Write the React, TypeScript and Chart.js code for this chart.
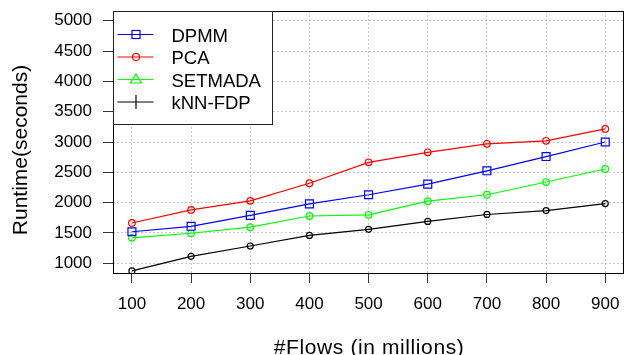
import React, { useEffect, useRef } from "react";
import { Chart, registerables } from "chart.js";

Chart.register(...registerables);

// Number of flows (millions) on the x axis
const flows = [100, 200, 300, 400, 500, 600, 700, 800, 900];

// Runtime in seconds for each method
const dpmm = [1520, 1610, 1790, 1980, 2130, 2305, 2525, 2760, 3000];
const pca = [1665, 1880, 2030, 2320, 2665, 2830, 2970, 3020, 3215];
const setmada = [1420, 1495, 1595, 1780, 1800, 2025, 2130, 2340, 2555];
const knnFdp = [875, 1115, 1285, 1460, 1560, 1690, 1805, 1870, 1985];

const seriesNames = ["DPMM", "PCA", "SETMADA", "kNN-FDP"];

const xTicks = [100, 200, 300, 400, 500, 600, 700, 800, 900];
const yTicks = [1000, 1500, 2000, 2500, 3000, 3500, 4000, 4500, 5000];

const FONT = "'Liberation Sans', Arial, Helvetica, sans-serif";

const toPoints = (ys: number[]) => flows.map((x, i) => ({ x, y: ys[i] }));

// Draws the plot frame, axis titles and the boxed legend
const framePlugin = {
  id: "frameAndLegend",
  afterDraw(chart: any) {
    const { ctx, chartArea } = chart;
    const { left, top, right, bottom } = chartArea;
    ctx.save();

    // plot frame
    ctx.strokeStyle = "#000";
    ctx.lineWidth = 1;
    ctx.setLineDash([]);
    ctx.strokeRect(Math.round(left) + 0.5, Math.round(top) + 0.5, Math.round(right - left) - 1, Math.round(bottom - top));

    // axis titles
    ctx.fillStyle = "#000";
    ctx.font = `21px ${FONT}`;
    ctx.textAlign = "center";
    ctx.textBaseline = "alphabetic";
    (ctx as any).letterSpacing = "0.6px";
    ctx.fillText("#Flows (in millions)", (left + right) / 2 + 0.5, 353.5);
    (ctx as any).letterSpacing = "0px";
    ctx.save();
    ctx.translate(27, 150);
    ctx.rotate(-Math.PI / 2);
    ctx.fillText("Runtime(seconds)", 0, 0);
    ctx.restore();

    // legend box
    const bx = Math.round(left) + 0.5;
    const by = Math.round(top) + 0.5;
    const bw = 159;
    const bh = 113;
    ctx.fillStyle = "#fff";
    ctx.fillRect(bx, by, bw, bh);
    ctx.strokeStyle = "#222";
    ctx.lineWidth = 1;
    ctx.strokeRect(bx, by, bw, bh);

    const colors = ["#0000ff", "#ff0000", "#00ff00", "#000000"];
    const rows = [34.5, 57, 79.5, 102];
    const lx1 = bx + 4;
    const lx2 = bx + 40;
    const mx = bx + 22.5;
    ctx.font = `18.5px ${FONT}`;
    ctx.textAlign = "left";
    ctx.textBaseline = "middle";
    rows.forEach((ry, i) => {
      ctx.strokeStyle = colors[i];
      ctx.lineWidth = 1.2;
      ctx.beginPath();
      ctx.moveTo(lx1, ry);
      ctx.lineTo(lx2, ry);
      ctx.stroke();
      ctx.beginPath();
      if (i === 0) {
        ctx.strokeRect(mx - 4, ry - 4, 8, 8);
      } else if (i === 1) {
        ctx.arc(mx, ry, 3.5, 0, Math.PI * 2);
        ctx.stroke();
      } else if (i === 2) {
        ctx.moveTo(mx, ry - 5.5);
        ctx.lineTo(mx + 5.5, ry + 3.5);
        ctx.lineTo(mx - 5.5, ry + 3.5);
        ctx.closePath();
        ctx.stroke();
      } else {
        ctx.moveTo(mx, ry - 7);
        ctx.lineTo(mx, ry + 7);
        ctx.stroke();
      }
      ctx.fillStyle = "#000";
      ctx.fillText(seriesNames[i], bx + 58, ry + 2);
    });

    ctx.restore();
  },
};

const makeSeries = (label: string, values: number[], color: string, style: string, radius: number) => ({
  label,
  data: toPoints(values),
  borderColor: color,
  borderWidth: 1.2,
  pointStyle: style,
  pointRadius: radius,
  pointBorderColor: color,
  pointBackgroundColor: "rgba(0,0,0,0)",
  pointBorderWidth: 1.2,
});

export default function App() {
  const canvasRef = useRef<HTMLCanvasElement | null>(null);

  useEffect(() => {
    const canvas = canvasRef.current;
    if (!canvas) return;
    const tickFont = { family: FONT, size: 17 };
    const gridOpts = {
      color: "#c8c8c8",
      lineWidth: 1,
      tickLength: 10,
      tickColor: "#333",
      tickWidth: 1,
    };
    const chart = new Chart(canvas, {
      type: "line",
      data: {
        datasets: [
          makeSeries(seriesNames[0], dpmm, "#0000ff", "rect", 5.6),
          makeSeries(seriesNames[1], pca, "#ff0000", "circle", 3.3),
          makeSeries(seriesNames[2], setmada, "#00ff00", "circle", 3.3),
          makeSeries(seriesNames[3], knnFdp, "#000000", "circle", 3),
        ] as any,
      },
      options: {
        responsive: false,
        animation: false,
        events: [],
        layout: { padding: { left: 0, top: 11, right: 1, bottom: 0 } },
        plugins: {
          legend: { display: false },
          tooltip: { enabled: false },
          title: { display: false },
        },
        scales: {
          x: {
            type: "linear",
            min: 68,
            max: 932,
            afterBuildTicks: (scale: any) => {
              scale.ticks = xTicks.map((v) => ({ value: v }));
            },
            afterFit: (scale: any) => {
              scale.height = 82;
              scale.paddingLeft = 0;
              scale.paddingRight = 0;
            },
            grid: gridOpts,
            border: { display: false, dash: [2, 2] },
            ticks: {
              font: tickFont,
              color: "#000",
              padding: 11,
              maxRotation: 0,
              autoSkip: false,
              callback: (v: any) => String(v),
            },
          },
          y: {
            type: "linear",
            min: 840,
            max: 5160,
            afterBuildTicks: (scale: any) => {
              scale.ticks = yTicks.map((v) => ({ value: v }));
            },
            afterFit: (scale: any) => {
              scale.width = 113;
              scale.paddingTop = 0;
              scale.paddingBottom = 0;
            },
            grid: gridOpts,
            border: { display: false, dash: [2, 2] },
            ticks: {
              font: tickFont,
              color: "#000",
              padding: 11,
              autoSkip: false,
              callback: (v: any) => String(v),
            },
          },
        },
      },
      plugins: [framePlugin],
    });
    return () => chart.destroy();
  }, []);

  return (
    <div style={{ position: "fixed", left: 0, top: 0, width: 631, height: 355, background: "#fff" }}>
      <canvas ref={canvasRef} width={631} height={355} style={{ display: "block" }} />
    </div>
  );
}
